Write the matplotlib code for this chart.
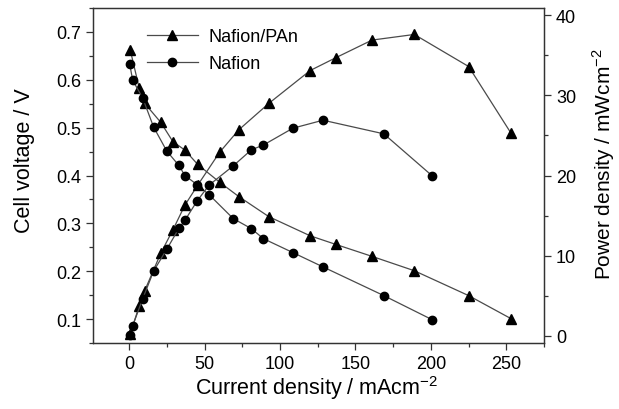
import numpy as np
import matplotlib
matplotlib.use('Agg')
from matplotlib import pyplot as plt
from matplotlib.ticker import MultipleLocator, FormatStrFormatter

plt.rcParams['font.family'] = ['Liberation Sans', 'DejaVu Sans']
plt.rcParams['mathtext.fontset'] = 'custom'
plt.rcParams['mathtext.rm'] = 'Liberation Sans'

# Nafion/PAn (triangles)
i_pan = [0.8, 6.7, 10.3, 21, 29, 37, 45.5, 60, 72.7, 92.6, 120, 137, 161, 189, 225, 253]
v_pan = [0.662, 0.583, 0.551, 0.511, 0.471, 0.453, 0.423, 0.386, 0.356, 0.314, 0.274, 0.256, 0.231, 0.201, 0.149, 0.101]
p_pan = [0.25, 3.7, 5.6, 10.3, 13.2, 16.3, 18.8, 22.9, 25.7, 29.0, 33.1, 34.7, 36.9, 37.6, 33.6, 25.3]

# Nafion (circles)
i_naf = [0.4, 2.4, 9, 16.3, 25, 33, 37, 45, 53, 69, 81, 89, 108.5, 128.5, 168.8, 200.6]
v_naf = [0.633, 0.599, 0.562, 0.501, 0.451, 0.421, 0.400, 0.381, 0.360, 0.310, 0.289, 0.268, 0.239, 0.209, 0.149, 0.099]
p_naf = [0.1, 1.25, 4.6, 8.1, 10.8, 13.4, 14.4, 16.8, 18.8, 21.2, 23.2, 23.8, 25.9, 26.9, 25.2, 20.0]

lc = '#4a4a4a'
fs = 13

fig = plt.figure(figsize=(6.19, 4.10), dpi=100)
ax = fig.add_axes([0.150, 0.161, 0.729, 0.817])
ax2 = ax.twinx()

l1, = ax.plot(i_pan, v_pan, '-', color=lc, lw=0.9, marker='^', ms=6.5, mfc='k', mec='k', label='Nafion/PAn')
l2, = ax.plot(i_naf, v_naf, '-', color=lc, lw=0.9, marker='o', ms=6, mfc='k', mec='k', label='Nafion')
ax2.plot(i_pan, p_pan, '-', color=lc, lw=0.9, marker='^', ms=6.5, mfc='k', mec='k')
ax2.plot(i_naf, p_naf, '-', color=lc, lw=0.9, marker='o', ms=6, mfc='k', mec='k')

ax.set_xlim(-24, 275)
ax.set_ylim(0.05, 0.75)
ax2.set_ylim(-0.9, 40.9)

ax.xaxis.set_major_locator(MultipleLocator(50))
ax.xaxis.set_minor_locator(MultipleLocator(25))
ax.set_yticks([0.1, 0.2, 0.3, 0.4, 0.5, 0.6, 0.7])
ax.yaxis.set_minor_locator(MultipleLocator(0.05))
ax.yaxis.set_major_formatter(FormatStrFormatter('%.1f'))
ax2.yaxis.set_major_locator(MultipleLocator(10))
ax2.yaxis.set_minor_locator(MultipleLocator(5))

for a in (ax, ax2):
    a.tick_params(which='major', direction='out', length=5, width=0.9, labelsize=fs, color='#333333')
    a.tick_params(which='minor', direction='out', length=3, width=0.9, color='#333333')
    for s in a.spines.values():
        s.set_linewidth(0.9)
        s.set_color('#333333')
ax.tick_params(axis='x', which='both', top=False)
ax.tick_params(axis='y', which='both', right=False)

ax.set_xlabel(r'Current density / mAcm$^{\mathregular{-2}}$', fontsize=15.5)
ax.set_ylabel('Cell voltage / V', fontsize=15.5)
ax2.set_ylabel(r'Power density / mWcm$^{\mathregular{-2}}$', fontsize=15)
ax.xaxis.set_label_coords(0.495, -0.09)
ax.yaxis.set_label_coords(-0.129, 0.546)
ax2.yaxis.set_label_coords(1.102, 0.537)

ax.legend(handles=[l1, l2], loc='upper left', bbox_to_anchor=(0.12, 0.94), frameon=False,
          fontsize=13, handlelength=2.8, handletextpad=0.6, labelspacing=0.55,
          borderpad=0, borderaxespad=0, numpoints=1)

fig.savefig('out.png', dpi=100)
